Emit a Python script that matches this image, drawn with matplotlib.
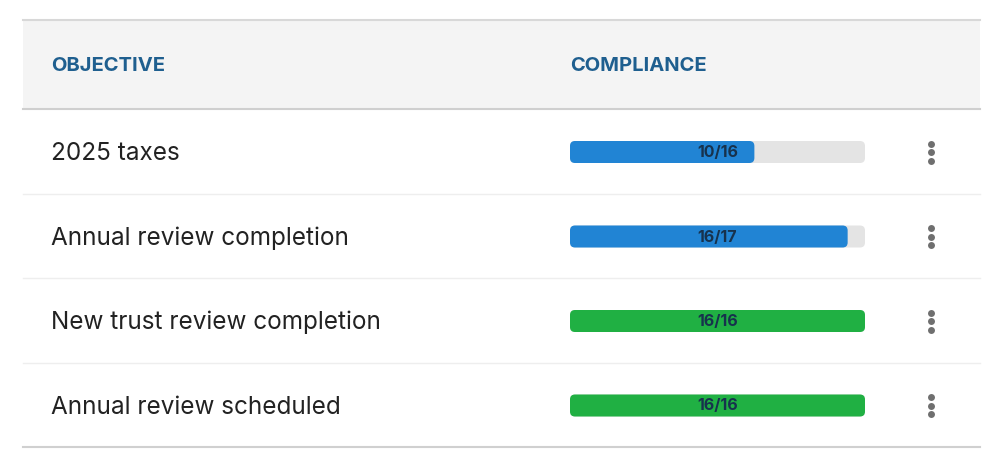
import matplotlib
matplotlib.use("Agg")
import matplotlib.pyplot as plt
from matplotlib.patches import FancyBboxPatch, Rectangle

objectives = ["2025 taxes", "Annual review completion", "New trust review completion", "Annual review scheduled"]
done = [10, 16, 16, 16]
total = [16, 17, 16, 16]
headers = ["OBJECTIVE", "COMPLIANCE"]

plt.rcParams['font.family'] = ['Inter', 'DejaVu Sans']
fig = plt.figure(figsize=(10, 4.68), dpi=100)
ax = fig.add_axes([0, 0, 1, 1])
ax.set_xlim(0, 1000); ax.set_ylim(468, 0); ax.axis('off')

ax.add_patch(Rectangle((23, 20), 957, 88, color='#f4f4f4', lw=0))
ax.plot([23, 980], [20, 20], color='#d8d8d8', lw=1.5)
ax.plot([23, 980], [108.5, 108.5], color='#cfcfcf', lw=1.5)
ax.text(51, 66, headers[0], fontsize=14.5, fontweight='bold', color='#1f5f8f', va='center')
ax.text(570, 66, headers[1], fontsize=14.5, fontweight='bold', color='#1f5f8f', va='center')

x0, W, H = 570, 295, 22
row_h = 84.5
for i, (name, d, t) in enumerate(zip(objectives, done, total)):
    yc = 152 + i * row_h
    ax.text(51, yc + 1.5, name, fontsize=17.5, color='#222222', va='center')
    ax.add_patch(FancyBboxPatch((x0, yc - H/2), W, H, boxstyle="round,pad=0,rounding_size=5",
                                fc='#e4e4e4', ec='none'))
    frac = d / t
    col = '#20b043' if d == t else '#2184d4'
    ax.add_patch(FancyBboxPatch((x0, yc - H/2), W * frac, H, boxstyle="round,pad=0,rounding_size=5",
                                fc=col, ec='none'))
    ax.text(x0 + W/2, yc + 0.5, f"{d}/{t}", fontsize=11.5, fontweight='bold', color='#17324d',
            ha='center', va='center')
    for dy in (-8.5, 0, 8.5):
        ax.plot(931, yc + dy, 'o', color='#6f6f6f', ms=5, mec='none')
    ysep = yc + 41.5
    last = i == len(objectives) - 1
    ax.plot([23, 980], [ysep, ysep], color='#d0d0d0' if last else '#eeeeee', lw=1.5 if last else 1)

fig.savefig("out.png", dpi=100, facecolor='white')
